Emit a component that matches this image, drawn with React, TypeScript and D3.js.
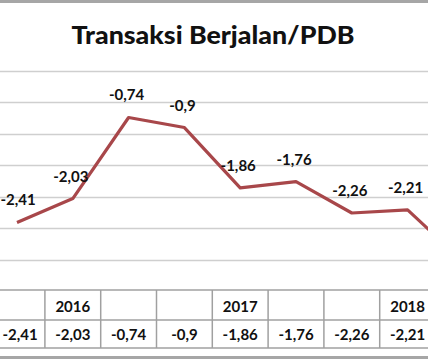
import React, { useEffect, useRef } from "react";
import * as d3 from "d3";

// quarterly current account / GDP (%), only part of the chart is visible
const periods = ["q1", "q2", "q3", "q4", "q5", "q6", "q7", "q8", "q9"];
const yearLabels = ["", "2016", "", "", "2017", "", "", "2018", ""];
const values = [-2.41, -2.03, -0.74, -0.9, -1.86, -1.76, -2.26, -2.21, -3.04];
const yTicks = [0, -0.5, -1, -1.5, -2, -2.5, -3];

const W = 428;
const H = 360;
const fmt = (v: number) => String(v).replace(".", ",");

export default function App() {
  const ref = useRef<SVGSVGElement>(null);

  useEffect(() => {
    document.body.style.margin = "0";
    const svg = d3.select(ref.current);
    svg.selectAll("*").remove();

    const step = 55.8;
    const x = d3
      .scaleBand()
      .domain(periods)
      .range([17 - step / 2, 17 - step / 2 + step * periods.length]);
    const cx = (p: string) => (x(p) as number) + x.bandwidth() / 2;
    const y = d3.scaleLinear().domain([-3, 0]).range([259.5, 71]);
    // labels whose cell is off the visible area are not drawn
    const shown = (_: unknown, i: number) => cx(periods[i]) < W;

    svg.append("rect").attr("width", W).attr("height", H).attr("fill", "#fff");

    // outer border bits
    svg.append("line").attr("x1", 0).attr("x2", W).attr("y1", 1.5).attr("y2", 1.5)
      .attr("stroke", "#a6a6a6").attr("stroke-width", 3);
    svg.append("line").attr("x1", 0).attr("x2", W).attr("y1", 357.5).attr("y2", 357.5)
      .attr("stroke", "#a6a6a6").attr("stroke-width", 3);

    svg.append("text")
      .attr("x", 213).attr("y", 44)
      .attr("text-anchor", "middle")
      .attr("font-family", "Lato, 'Open Sans', sans-serif")
      .attr("font-weight", 900)
      .attr("font-size", 25)
      .attr("textLength", 283)
      .attr("lengthAdjust", "spacingAndGlyphs")
      .attr("fill", "#111")
      .text("Transaksi Berjalan/PDB");

    // gridlines
    svg.append("g").selectAll("line").data(yTicks).join("line")
      .attr("x1", 0).attr("x2", W)
      .attr("y1", d => Math.round(y(d)) + 0.5).attr("y2", d => Math.round(y(d)) + 0.5)
      .attr("stroke", "#cfcfcf").attr("stroke-width", 1.5);

    const line = d3.line<number>()
      .x((_, i) => cx(periods[i]))
      .y(d => y(d));

    svg.append("path")
      .datum(values)
      .attr("d", line)
      .attr("fill", "none")
      .attr("stroke", "#a8474a")
      .attr("stroke-width", 3.2)
      .attr("stroke-linejoin", "round");

    svg.append("g").selectAll("text").data(values.filter(shown)).join("text")
      .attr("x", (_, i) => Math.max(cx(periods[i]) - 2, 18))
      .attr("y", d => y(d) - 17)
      .attr("text-anchor", "middle")
      .attr("font-family", "Lato, sans-serif")
      .attr("font-weight", 700)
      .attr("font-size", 15)
      .attr("fill", "#111")
      .text(d => fmt(d));

    // data table
    const rowTop = 290, rowMid = 320, rowBot = 348;
    const tbl = svg.append("g")
      .attr("stroke", "#a0a0a0").attr("stroke-width", 1.5);
    [rowTop, rowMid, rowBot].forEach(yy => {
      tbl.append("line").attr("x1", 0).attr("x2", W).attr("y1", yy).attr("y2", yy);
    });
    tbl.selectAll("line.v").data(periods).join("line")
      .attr("class", "v")
      .attr("x1", d => (x(d) as number) + x.bandwidth())
      .attr("x2", d => (x(d) as number) + x.bandwidth())
      .attr("y1", rowTop).attr("y2", rowBot);

    svg.append("g").selectAll("text").data(yearLabels.filter(shown)).join("text")
      .attr("x", (_, i) => cx(periods[i]))
      .attr("y", 312)
      .attr("text-anchor", "middle")
      .attr("font-family", "Lato, sans-serif")
      .attr("font-weight", 700)
      .attr("font-size", 15)
      .attr("fill", "#111")
      .text(d => d);

    svg.append("g").selectAll("text").data(values.filter(shown)).join("text")
      .attr("x", (_, i) => Math.max(cx(periods[i]), 20))
      .attr("y", 340)
      .attr("text-anchor", "middle")
      .attr("font-family", "Lato, sans-serif")
      .attr("font-weight", 700)
      .attr("font-size", 15)
      .attr("fill", "#111")
      .text(d => fmt(d));
  }, []);

  return (
    <svg
      ref={ref}
      width={W}
      height={H}
      style={{ display: "block", position: "fixed", left: 0, top: 0 }}
    />
  );
}
